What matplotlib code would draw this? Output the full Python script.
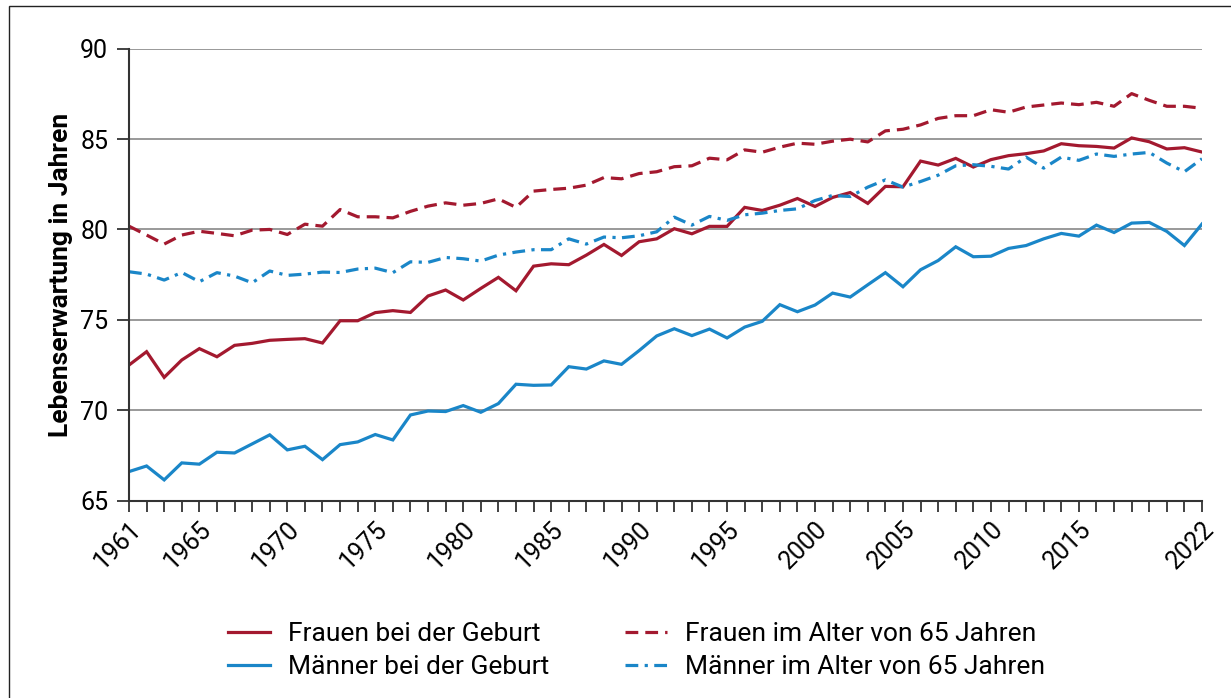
import matplotlib
matplotlib.use("Agg")
import matplotlib.pyplot as plt
from matplotlib.patches import Rectangle
from matplotlib.ticker import MultipleLocator, FixedLocator

years = list(range(1961, 2023))

frauen_geburt = [72.50, 73.24, 71.82, 72.78, 73.41, 72.96, 73.59, 73.70, 73.87, 73.92,
                 73.96, 73.72, 74.95, 74.95, 75.40, 75.51, 75.41, 76.32, 76.65, 76.10,
                 76.74, 77.35, 76.61, 77.97, 78.10, 78.05, 78.58, 79.17, 78.56, 79.32,
                 79.48, 80.04, 79.76, 80.17, 80.17, 81.22, 81.05, 81.34, 81.71, 81.27,
                 81.77, 82.04, 81.44, 82.38, 82.36, 83.78, 83.56, 83.93, 83.45, 83.86,
                 84.08, 84.19, 84.34, 84.74, 84.63, 84.59, 84.50, 85.06, 84.85, 84.45,
                 84.52, 84.28]

maenner_geburt = [66.61, 66.92, 66.15, 67.09, 67.02, 67.68, 67.64, 68.14, 68.64, 67.81,
                  68.01, 67.27, 68.10, 68.25, 68.66, 68.36, 69.74, 69.96, 69.93, 70.26,
                  69.89, 70.37, 71.44, 71.38, 71.40, 72.41, 72.28, 72.73, 72.54, 73.30,
                  74.11, 74.51, 74.13, 74.49, 74.00, 74.60, 74.92, 75.84, 75.45, 75.82,
                  76.48, 76.26, 76.94, 77.61, 76.83, 77.77, 78.28, 79.04, 78.49, 78.52,
                  78.95, 79.11, 79.48, 79.78, 79.63, 80.24, 79.83, 80.35, 80.39, 79.89,
                  79.11, 80.30]

frauen_65 = [80.18, 79.69, 79.19, 79.69, 79.90, 79.78, 79.65, 79.96, 80.00, 79.72,
             80.29, 80.18, 81.10, 80.70, 80.70, 80.64, 81.00, 81.29, 81.47, 81.34,
             81.44, 81.69, 81.22, 82.12, 82.21, 82.28, 82.45, 82.87, 82.80, 83.09,
             83.19, 83.47, 83.52, 83.94, 83.85, 84.40, 84.27, 84.55, 84.77, 84.71,
             84.88, 84.99, 84.84, 85.45, 85.54, 85.78, 86.14, 86.29, 86.29, 86.62,
             86.48, 86.77, 86.88, 86.99, 86.90, 87.03, 86.81, 87.51, 87.14, 86.81,
             86.81, 86.70]

maenner_65 = [77.66, 77.53, 77.20, 77.62, 77.11, 77.61, 77.42, 77.05, 77.70, 77.46,
              77.53, 77.64, 77.62, 77.81, 77.86, 77.61, 78.21, 78.18, 78.45, 78.38,
              78.25, 78.58, 78.75, 78.88, 78.88, 79.48, 79.19, 79.58, 79.54, 79.65,
              79.87, 80.68, 80.24, 80.72, 80.50, 80.81, 80.90, 81.05, 81.14, 81.60,
              81.88, 81.82, 82.34, 82.74, 82.34, 82.65, 83.00, 83.52, 83.58, 83.49,
              83.34, 84.00, 83.39, 84.00, 83.82, 84.17, 84.04, 84.17, 84.26, 83.67,
              83.19, 83.91]

tick_years = [1961, 1965, 1970, 1975, 1980, 1985, 1990, 1995, 2000, 2005, 2010, 2015, 2022]
y_ticks = [65, 70, 75, 80, 85, 90]

labels = ["Frauen bei der Geburt", "Männer bei der Geburt",
          "Frauen im Alter von 65 Jahren", "Männer im Alter von 65 Jahren"]

RED = "#A3192F"
BLUE = "#1A86C8"

plt.rcParams['font.family'] = ['Roboto', 'DejaVu Sans']

fig = plt.figure(figsize=(12.31, 6.98), dpi=100)
ax = fig.add_axes([129/1231, 1 - 500.7/698, (1202-129)/1231, (500.7-48.6)/698])

lw = 2.3
l1, = ax.plot(years, frauen_geburt, color=RED, lw=lw, solid_joinstyle='miter')
l2, = ax.plot(years, maenner_geburt, color=BLUE, lw=lw, solid_joinstyle='miter')
l3, = ax.plot(years, frauen_65, color=RED, lw=lw, dashes=(4, 2.2))
l4, = ax.plot(years, maenner_65, color=BLUE, lw=lw, dashes=(4, 2, 1, 2))

ax.set_xlim(1961, 2022)
ax.set_ylim(65, 90)
ax.set_yticks(y_ticks)
ax.xaxis.set_major_locator(FixedLocator(tick_years))
ax.xaxis.set_minor_locator(MultipleLocator(1))
ax.set_xticklabels([str(y) for y in tick_years], rotation=45, ha='right', va='top',
                   rotation_mode='anchor', fontsize=18)
ax.tick_params(axis='y', labelsize=18, length=9, width=1.3, color='#333333', pad=6)
ax.tick_params(axis='x', which='both', length=8, width=1.3, color='#333333', pad=4)

ax.grid(axis='y', color='#999999', lw=1.4)
ax.set_axisbelow(True)
for s in ['top', 'right']:
    ax.spines[s].set_visible(False)
for s in ['left', 'bottom']:
    ax.spines[s].set_color('#333333')
    ax.spines[s].set_linewidth(1.5)

ax.set_ylabel("Lebenserwartung in Jahren", fontsize=19, fontweight='bold')
ax.yaxis.set_label_coords(-0.052, 0.5)

leg = fig.legend([l1, l2, l3, l4], labels,
                 ncol=2, loc='center', bbox_to_anchor=(0.517, 0.068), frameon=False,
                 fontsize=19, handlelength=1.6, columnspacing=2.85, labelspacing=0.36,
                 handletextpad=0.68)

fig.patches.append(Rectangle((9/1231, -0.1), 1.2, 1.1 - 6/698, transform=fig.transFigure,
                             fill=False, edgecolor='#222222', lw=1.0))

fig.savefig("out.png", dpi=100)
